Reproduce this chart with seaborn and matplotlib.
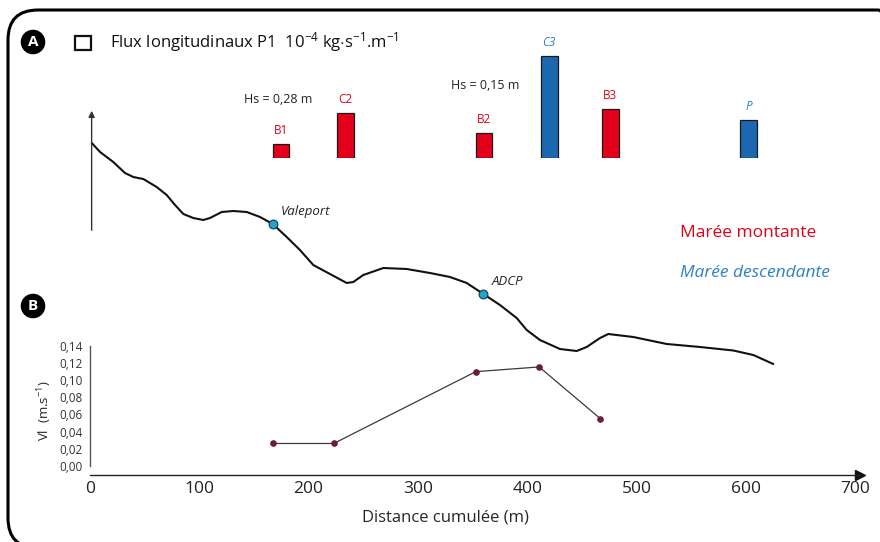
import numpy as np
import pandas as pd
import matplotlib
matplotlib.use("Agg")
import matplotlib.pyplot as plt
import seaborn as sns
from matplotlib.patches import FancyBboxPatch, Rectangle
from matplotlib.transforms import IdentityTransform
from matplotlib.ticker import FuncFormatter, MultipleLocator

#panel A bars: longitudinal flux per station (relative units)
stations = ["B1", "C2", "B2", "C3", "B3", "P"]
station_dist = [174.7, 234.0, 360.5, 420.2, 476.0, 602.5]
flux = [1.43, 4.5, 2.5, 10.2, 4.97, 3.83]
tide = ["montante", "montante", "montante", "descendante", "montante", "descendante"]

#beach profile (distance m, relative elevation)
prof_dist = [1.6, 9.2, 21.3, 32.0, 39.6, 48.8, 61.0, 70.2, 77.8, 85.4, 94.5, 103.7,
             109.8, 120.5, 131.1, 143.4, 155.6, 167.2, 180.0, 192.1, 204.3, 219.6,
             234.9, 240.9, 250.1, 268.4, 289.8, 311.1, 329.4, 344.7, 359.9, 375.1,
             390.4, 399.6, 411.7, 430.0, 445.3, 454.5, 466.7, 474.2, 497.1, 527.7,
             558.2, 588.6, 606.9, 625.2]
prof_elev = [23.7, 22.8, 21.8, 20.7, 20.3, 20.1, 19.3, 18.5, 17.5, 16.6, 16.2, 16.0,
             16.2, 16.8, 16.9, 16.8, 16.3, 15.6, 14.3, 13.0, 11.5, 10.6,
             9.7, 9.8, 10.5, 11.2, 11.1, 10.7, 10.3, 9.7, 8.6, 7.5,
             6.2, 5.0, 4.0, 3.1, 2.9, 3.3, 4.2, 4.6, 4.3, 3.6,
             3.3, 2.95, 2.5, 1.6]
instr_names = ["Valeport", "ADCP"]
instr_dist = [167.2, 359.9]
instr_elev = [15.6, 8.6]

#panel B: longshore velocity
vl_dist = [167, 223, 353, 411, 467]
vl = [0.026, 0.026, 0.110, 0.1155, 0.055]

RED = "#e2001a"
BLUE = "#1b68b0"
LBLUE = "#2e7fc4"

sns.set_style("white")
plt.rcParams["font.family"] = ["Open Sans", "DejaVu Sans"]
plt.rcParams["mathtext.fontset"] = "custom"
plt.rcParams["mathtext.rm"] = "Open Sans"
plt.rcParams["mathtext.it"] = "Open Sans:italic"

W, H = 880, 542
fig = plt.figure(figsize=(W / 100, H / 100), dpi=100)

def fx(px):
    return px / W

def fy(py):
    return 1 - py / H

x0, x1 = 90, 860
xmax = (x1 - x0) / 1.0929

#panel B axes
ax = fig.add_axes([fx(x0), fy(475), fx(x1) - fx(x0), fy(346) - fy(475)])
ax.set_facecolor("none")
vl_df = pd.DataFrame({"dist": vl_dist, "vl": vl})
sns.lineplot(data=vl_df, x="dist", y="vl", ax=ax, color="#3a3a3a", lw=0.9,
             marker="o", markersize=4, markerfacecolor="#6b1f2e",
             markeredgecolor="#6b1f2e")
ax.set_xlim(0, xmax)
ax.set_ylim(-0.01085, 0.14)
for s in ["top", "right"]:
    ax.spines[s].set_visible(False)
ax.spines["left"].set_bounds(0, 0.14)
ax.spines["left"].set_color("#555555")
ax.spines["left"].set_linewidth(1.0)
ax.spines["bottom"].set_color("#222222")
ax.spines["bottom"].set_linewidth(1.0)
ax.plot(1, 0, marker=">", color="#111111", markersize=7, transform=ax.transAxes, clip_on=False)
ax.xaxis.set_major_locator(MultipleLocator(100))
ax.set_xticks(range(0, 800, 100))
ax.set_yticks(np.arange(0, 0.141, 0.02))
ax.yaxis.set_major_formatter(FuncFormatter(lambda v, p: f"{v:.2f}".replace(".", ",")))
ax.tick_params(axis="x", direction="in", length=4, width=0.8, labelsize=12.5, pad=4, colors="#222222")
ax.tick_params(axis="y", direction="out", length=3, width=0.8, labelsize=8.5, pad=2, colors="#333333")
ax.set_xlabel("Distance cumulée (m)", fontsize=12)
ax.xaxis.set_label_coords(0.462, -0.27)
ax.set_ylabel("Vl  (m.s$^{-1}$)", fontsize=9.5, labelpad=4)

#profile overlay
ax2 = fig.add_axes([fx(x0), fy(475), fx(x1) - fx(x0), fy(0) - fy(475)])
ax2.set_facecolor("none")
ax2.axis("off")
prof_df = pd.DataFrame({"dist": prof_dist, "elev": prof_elev})
sns.lineplot(data=prof_df, x="dist", y="elev", ax=ax2, color="#111111", lw=1.5,
             solid_joinstyle="round", solid_capstyle="round")
sns.scatterplot(x=instr_dist, y=instr_elev, ax=ax2, s=40, color="#1fa6c9",
                edgecolor="#0c3c50", linewidth=0.8, zorder=5)
for name, d, e in zip(instr_names, instr_dist, instr_elev):
    ax2.annotate(name, (d, e), xytext=(6, 4), textcoords="offset points",
                 fontsize=9.5, style="italic", color="#222222", va="bottom")
ax2.annotate("", xy=(1.5, 27.2), xytext=(1.5, 14.7),
             arrowprops=dict(arrowstyle="-|>", color="#333333", lw=1.0, mutation_scale=9))
ax2.set_xlim(0, xmax)
ax2.set_ylim(-9.5, 38)

#flux bars
ax3 = fig.add_axes([fx(x0), fy(158.3), fx(x1) - fx(x0), fy(0) - fy(158.3)])
ax3.set_facecolor("none")
ax3.axis("off")
bar_colors = [RED if t == "montante" else BLUE for t in tide]
ax3.bar(station_dist, flux, width=15.2, color=bar_colors, edgecolor="#1a1a1a", linewidth=0.9)
for name, d, f, t in zip(stations, station_dist, flux, tide):
    ax3.annotate(name, (d, f), xytext=(0, 5), textcoords="offset points", ha="center",
                 va="bottom", fontsize=8.5,
                 color=RED if t == "montante" else LBLUE,
                 style="normal" if t == "montante" else "italic")
ax3.text(172, 5.93, "Hs = 0,28 m", ha="center", va="center", fontsize=9, color="#222222")
ax3.text(362, 7.33, "Hs = 0,15 m", ha="center", va="center", fontsize=9, color="#222222")
ax3.set_xlim(0, xmax)
ax3.set_ylim(0, 15.83)

#title and legend
fig.text(fx(110), fy(42), r"Flux longitudinaux P1  10$^{\mathregular{-4}}$ kg$\cdot$s$^{\mathregular{-1}}$.m$^{\mathregular{-1}}$",
         fontsize=12, va="center", ha="left", color="#111111")
fig.add_artist(Rectangle((fx(75), fy(50)), fx(16), 14 / H, transform=fig.transFigure,
                         fill=False, edgecolor="#111111", linewidth=1.6))
fig.text(fx(680), fy(233), "Marée montante", fontsize=12.5, color=RED, va="center")
fig.text(fx(680), fy(273), "Marée descendante", fontsize=12.5, color=LBLUE, va="center", style="italic")

for lab, py in [("A", 42), ("B", 306)]:
    fig.text(fx(33), fy(py), lab, fontsize=11, fontweight="bold", color="white",
             ha="center", va="center",
             bbox=dict(boxstyle="circle,pad=0.3", fc="black", ec="black"))

#rounded frame
frame = FancyBboxPatch((8, H - 548), 900, 538, boxstyle="round,pad=0,rounding_size=30",
                       transform=IdentityTransform(), fill=False, edgecolor="black", linewidth=2.2)
fig.add_artist(frame)

fig.savefig("out.png", dpi=100)
